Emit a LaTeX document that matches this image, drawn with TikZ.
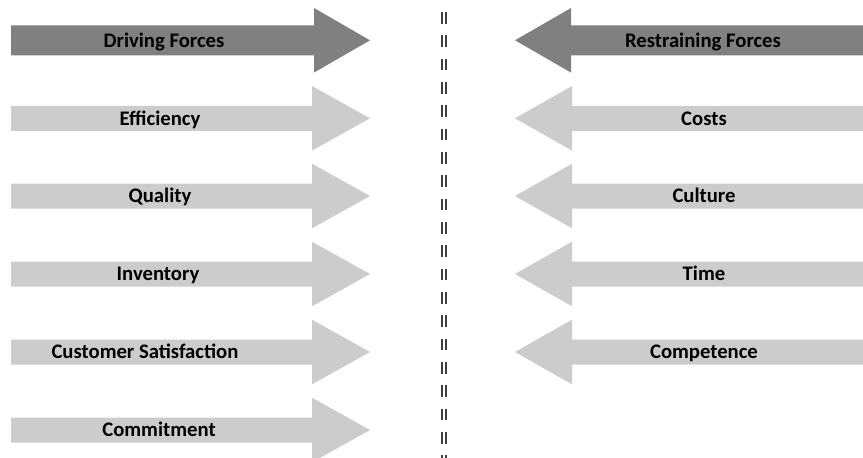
\documentclass[tikz,border=0pt]{standalone}
\usepackage{fontspec}
\setmainfont{Carlito}
\begin{document}
\begin{tikzpicture}[x=1pt,y=-1pt,
  forcedark/.style={fill=gray!100!black, draw=none},
  forcelight/.style={fill=black!20, draw=none},
  label/.style={font=\fontsize{20.7}{24}\selectfont\bfseries, text=black, inner sep=0pt, anchor=base},
  divider/.style={draw=black!75, line width=1.2pt, dash pattern=on 11.7pt off 11.63pt}]
\useasboundingbox (0,0) rectangle (863,458);

% driving forces (left, pointing right)
\fill[forcedark] (11,25.3) -- (314,25.3) -- (314,8) -- (370,40.3) -- (314,72.6) -- (314,55.3) -- (11,55.3) -- cycle;
\node[label] (drv) at (164,47) {Driving Forces};
\foreach \c/\tx/\t/\nm in {118.3/160/Efficiency/eff, 196/160/Quality/qua, 274/158/Inventory/inv, 352/145/Customer Satisfaction/cus, 430/159/Commitment/com}{
  \fill[forcelight] (11,\c-12.5) -- (312,\c-12.5) -- (312,\c-32.3) -- (370,\c) -- (312,\c+32.3) -- (312,\c+12.5) -- (11,\c+12.5) -- cycle;
  \node[label] (\nm) at (\tx,\c+6.7) {\t};
}

% restraining forces (right, pointing left)
\fill[forcedark] (864,25.3) -- (571,25.3) -- (571,8) -- (515,40.3) -- (571,72.6) -- (571,55.3) -- (864,55.3) -- cycle;
\node[label] (rst) at (703,47) {Restraining Forces};
\foreach \c/\t/\nm in {118.3/Costs/cst, 196/Culture/cul, 274/Time/tim, 352/Competence/cpt}{
  \fill[forcelight] (864,\c-12.5) -- (572,\c-12.5) -- (572,\c-32.3) -- (515,\c) -- (572,\c+32.3) -- (572,\c+12.5) -- (864,\c+12.5) -- cycle;
  \node[label] (\nm) at (704,\c+6.7) {\t};
}

% central divider
\coordinate (dtop) at (444,12);
\coordinate (dbot) at (444,460);
\draw[divider] ([xshift=-2pt]dtop) -- ([xshift=-2pt]dbot);
\draw[divider] ([xshift=2pt]dtop) -- ([xshift=2pt]dbot);
\end{tikzpicture}
\end{document}
